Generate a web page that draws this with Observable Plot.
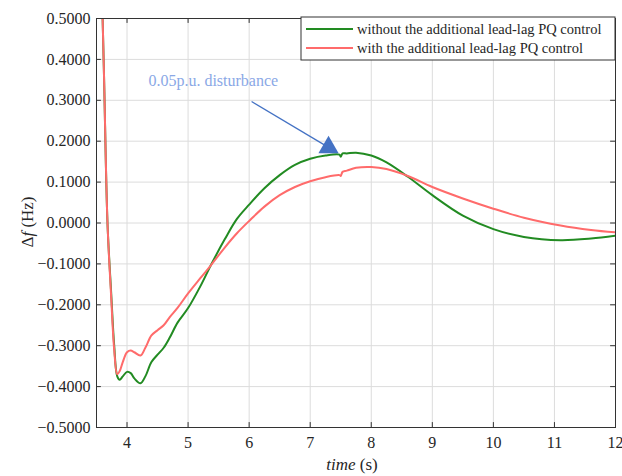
<!DOCTYPE html>
<html><head><meta charset="utf-8">
<script src="https://cdn.jsdelivr.net/npm/d3@7"></script>
<script src="https://cdn.jsdelivr.net/npm/@observablehq/plot@0.6"></script>
<style>body{margin:0;background:#fff}svg{display:block}svg text{font-family:"Liberation Serif","DejaVu Serif",serif !important}</style>
</head><body><div id="chart"></div>
<script>
const time = [3.55,3.62,3.68,3.74,3.79,3.84,3.88,3.93,4.0,4.06,4.12,4.22,4.3,4.4,4.5,4.6,4.7,4.83,5.0,5.2,5.37,5.6,5.8,6.0,6.25,6.5,6.75,7.0,7.25,7.48,7.5,7.53,7.6,7.75,8.0,8.25,8.6,9.0,9.5,10.0,10.5,11.1,11.6,12.0];
const without = [0.8,0.38,0.0,-0.17,-0.3,-0.375,-0.383,-0.375,-0.364,-0.367,-0.38,-0.392,-0.375,-0.34,-0.322,-0.305,-0.28,-0.243,-0.208,-0.155,-0.104,-0.04,0.01,0.045,0.085,0.117,0.142,0.157,0.165,0.167,0.162,0.170,0.170,0.172,0.165,0.148,0.113,0.068,0.018,-0.015,-0.034,-0.042,-0.038,-0.031];
const withCtl = [0.8,0.38,0.0,-0.18,-0.31,-0.37,-0.362,-0.34,-0.316,-0.312,-0.316,-0.324,-0.305,-0.275,-0.262,-0.25,-0.23,-0.207,-0.172,-0.135,-0.104,-0.06,-0.025,0.005,0.04,0.068,0.088,0.102,0.112,0.117,0.115,0.125,0.128,0.135,0.137,0.132,0.115,0.088,0.06,0.035,0.013,-0.006,-0.017,-0.023];
const seriesNames = ["without the additional lead-lag PQ control","with the additional lead-lag PQ control"];
const seriesColors = ["#228B22","#FF6B6B"];
const xTicks = [4,5,6,7,8,9,10,11,12];
const yTicks = [-0.5,-0.4,-0.3,-0.2,-0.1,0,0.1,0.2,0.3,0.4,0.5];
const annText = "0.05p.u. disturbance";
const annTextPos = {t: 4.35, v: 0.336};
const arrowFrom = {t: 6.04, v: 0.297};
const arrowTo = {t: 7.3, v: 0.185};

const rows = [];
time.forEach((t,i)=>{ rows.push({t, v: without[i], s: seriesNames[0]}); });
time.forEach((t,i)=>{ rows.push({t, v: withCtl[i], s: seriesNames[1]}); });

const fmtY = d => (d < 0 ? "\u2212" : "") + Math.abs(d).toFixed(4);
const font = "Liberation Serif";
const xDom = [3.5, 12], yDom = [-0.5, 0.5];
const xt = 0.08, yt = 0.012;

const plot = Plot.plot({
  width: 622, height: 476,
  marginLeft: 96, marginTop: 18, marginRight: 7, marginBottom: 49,
  style: "font-size: 16px; color: #262626; background: #fff;",
  x: {domain: xDom, ticks: xTicks, label: null},
  y: {domain: yDom, ticks: yTicks, label: null},
  color: {domain: seriesNames, range: seriesColors},
  marks: [
    Plot.gridX(xTicks, {stroke: "#dcdcdc", strokeOpacity: 1, strokeWidth: 1}),
    Plot.gridY(yTicks, {stroke: "#dcdcdc", strokeOpacity: 1, strokeWidth: 1}),
    Plot.axisX(xTicks, {tickSize: 0, tickPadding: 9, fontSize: 16}),
    Plot.axisY(yTicks, {tickSize: 0, tickPadding: 6, fontSize: 16, tickFormat: fmtY}),
    Plot.ruleX(xTicks, {y1: yDom[0], y2: yDom[0] + yt, stroke: "#333"}),
    Plot.ruleX(xTicks, {y1: yDom[1], y2: yDom[1] - yt, stroke: "#333"}),
    Plot.ruleY(yTicks, {x1: xDom[0], x2: xDom[0] + xt, stroke: "#333"}),
    Plot.ruleY(yTicks, {x1: xDom[1], x2: xDom[1] - xt, stroke: "#333"}),
    Plot.line(rows, {x: "t", y: "v", z: "s", stroke: "s", strokeWidth: 2, curve: "catmull-rom", clip: true}),
    Plot.link([0], {x1: () => arrowFrom.t, y1: () => arrowFrom.v, x2: () => arrowTo.t, y2: () => arrowTo.v, stroke: "#4472C4", strokeWidth: 1.3}),
    Plot.dot([0], {x: () => arrowTo.t, y: () => arrowTo.v, symbol: "triangle", r: 7.5, fill: "#4472C4", stroke: "none"}),
    Plot.text([annText], {x: () => annTextPos.t, y: () => annTextPos.v, text: d => d, textAnchor: "start", lineAnchor: "bottom", fill: "#8AA8E6", fontSize: 16}),
    Plot.frame({stroke: "#333", strokeWidth: 1})
  ]
});
document.getElementById("chart").append(plot);

const svg = d3.select(plot);
// axis labels
const yl = svg.append("text").attr("transform", "translate(33,222) rotate(-90)")
  .attr("text-anchor", "middle").attr("font-size", 17).attr("fill", "#262626");
yl.append("tspan").text("\u0394");
yl.append("tspan").attr("font-style", "italic").text("f");
yl.append("tspan").text(" (Hz)");
const xl = svg.append("text").attr("x", 352).attr("y", 470)
  .attr("text-anchor", "middle").attr("font-size", 17).attr("fill", "#262626");
xl.append("tspan").attr("font-style", "italic").text("time");
xl.append("tspan").text(" (s)");
// legend
const lg = svg.append("g");
lg.append("rect").attr("x", 301).attr("y", 17).attr("width", 314).attr("height", 43)
  .attr("fill", "#fff").attr("stroke", "#333").attr("stroke-width", 1);
seriesNames.forEach((n, i) => {
  const yy = 29 + i * 19;
  lg.append("line").attr("x1", 306).attr("x2", 353).attr("y1", yy).attr("y2", yy)
    .attr("stroke", seriesColors[i]).attr("stroke-width", 2);
  lg.append("text").attr("x", 357).attr("y", yy).attr("dy", "0.35em").attr("text-anchor", "start")
    .attr("font-size", 14.5).attr("fill", "#262626").text(n);
});
</script></body></html>
